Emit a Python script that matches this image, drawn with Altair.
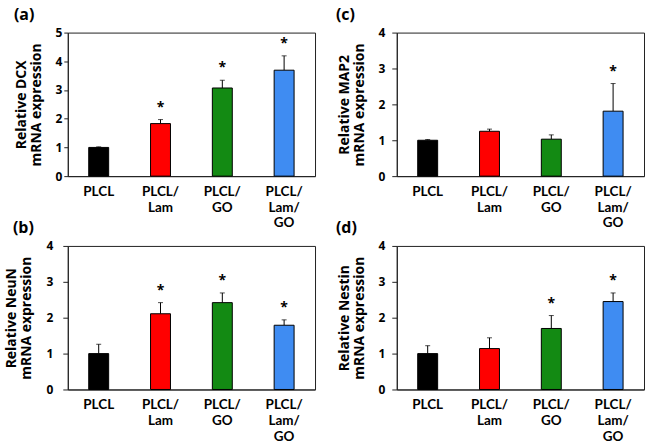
import altair as alt
import pandas as pd

# ---- data -------------------------------------------------------------
groups = ["PLCL", "PLCL/Lam", "PLCL/GO", "PLCL/Lam/GO"]
tick_labels = ["PLCL", "PLCL/\nLam", "PLCL/\nGO", "PLCL/\nLam/\nGO"]
bar_colors = ["#000000", "#ff0000", "#138a13", "#3f8cf2"]

dcx_mean = [1.00, 1.83, 3.07, 3.69]
dcx_err = [0.02, 0.14, 0.27, 0.50]
dcx_sig = [False, True, True, True]

map2_mean = [1.00, 1.25, 1.03, 1.81]
map2_err = [0.02, 0.06, 0.12, 0.77]
map2_sig = [False, False, False, True]

neun_mean = [1.00, 2.11, 2.42, 1.79]
neun_err = [0.26, 0.31, 0.27, 0.15]
neun_sig = [False, True, True, True]

nestin_mean = [1.00, 1.14, 1.70, 2.45]
nestin_err = [0.22, 0.30, 0.36, 0.24]
nestin_sig = [False, False, True, True]

FONT = "Open Sans"
XFONT = "Lato"
FRAME = "#222222"


def panel(letter, gene, mean, err, sig, ymax, tick_size, label_pad, title_pad, letter_dx):
    df = pd.DataFrame({
        "group": tick_labels,
        "mean": mean,
        "top": [m + e for m, e in zip(mean, err)],
        "star": ["*" if s else "" for s in sig],
    })
    xaxis = alt.Axis(
        title=None, labelAngle=0, ticks=False, labelPadding=8,
        labelExpr="split(datum.label, '\\n')", labelLineHeight=16,
        labelFontSize=13.5, labelFontWeight="bold", labelFont=XFONT,
        labelColor="black", domainColor=FRAME, labelBaseline="top",
    )
    x = alt.X("group:N", sort=tick_labels,
              scale=alt.Scale(domain=tick_labels, paddingInner=0, paddingOuter=0),
              axis=xaxis)
    yscale = alt.Scale(domain=[0, ymax], nice=False, zero=True)
    yaxis = alt.Axis(
        values=list(range(ymax + 1)), format="d", grid=False,
        title=["Relative " + gene, "mRNA expression"],
        titleFont=FONT, titleFontSize=14, titleFontWeight="bold",
        titleLineHeight=15, titlePadding=title_pad, titleColor="black",
        labelFont=FONT, labelFontSize=12, labelFontWeight="bold",
        labelColor="black", labelPadding=label_pad,
        tickSize=tick_size, tickColor=FRAME, domainColor=FRAME,
    )
    base = alt.Chart(df)
    rule = base.mark_rule(color="black", strokeWidth=1).encode(
        x=x, y=alt.Y("mean:Q", scale=yscale, axis=yaxis),
        y2="top:Q")
    cap = base.mark_tick(color="black", size=5, thickness=1).encode(
        x=x, y=alt.Y("top:Q", scale=yscale, axis=yaxis))
    bars = base.mark_bar(size=20, stroke="black", strokeWidth=1).encode(
        x=x, y=alt.Y("mean:Q", scale=yscale, axis=yaxis),
        color=alt.Color("group:N", scale=alt.Scale(domain=tick_labels, range=bar_colors),
                        legend=None))
    star = base.mark_text(font=FONT, fontSize=14, fontWeight="bold", color="black",
                          baseline="middle", dy=-12).encode(
        x=x, y=alt.Y("top:Q", scale=yscale, axis=yaxis), text="star:N")
    return alt.layer(rule, cap, bars, star).properties(
        width=248, height=144,
        title=alt.TitleParams(letter, anchor="start", frame="group", dx=letter_dx,
                              font=FONT, fontSize=16, fontWeight="bold",
                              color="black", offset=4),
    )


pa = panel("(a)", "DCX", dcx_mean, dcx_err, dcx_sig, 5, 4, 2, 12, -54)
pc = panel("(c)", "MAP2", map2_mean, map2_err, map2_sig, 4, 5, 7, 12, -61)
pb = panel("(b)", "NeuN", neun_mean, neun_err, neun_sig, 4, 5, 10, 13, -55)
pd_ = panel("(d)", "Nestin", nestin_mean, nestin_err, nestin_sig, 4, 5, 7, 12, -61)

chart = alt.concat(pa, pc, pb, pd_, columns=2, spacing={"row": 70, "column": 82}).properties(
    bounds="flush",
    padding={"left": 3, "top": 5, "right": 3, "bottom": 0},
    background="white",
).configure_view(stroke=FRAME, strokeWidth=1)

chart.save("out.html", embed_options={"renderer": "svg", "actions": False})
